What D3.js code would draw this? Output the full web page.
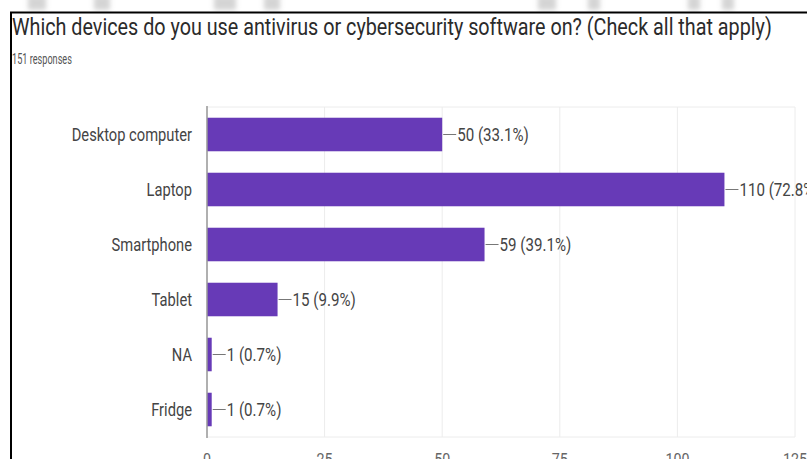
<!DOCTYPE html>
<html>
<head>
<meta charset="utf-8">
<script src="https://cdn.jsdelivr.net/npm/d3@7"></script>
<style>
  html, body { margin: 0; padding: 0; background: #fff; }
  svg { display: block; font-family: Roboto, "Noto Sans", sans-serif; }
</style>
</head>
<body>
<svg id="chart" width="807" height="459"></svg>
<script>
// Survey: devices with antivirus / cybersecurity software
const title = "Which devices do you use antivirus or cybersecurity software on? (Check all that apply)";
const subtitle = "151 responses";
const totalResponses = 151;
const categories = ["Desktop computer", "Laptop", "Smartphone", "Tablet", "NA", "Fridge"];
const counts = [50, 110, 59, 15, 1, 1];
const xTicks = [0, 25, 50, 75, 100, 125];

const svg = d3.select("#chart");
const W = 807, H = 459;
const squeeze = 0.84;          // narrow type
const barColor = "#673ab7";

const plot = { left: 207, right: 795, top: 107, bottom: 437 };

const x = d3.scaleLinear().domain([0, 125]).range([plot.left, plot.right]);
const y = d3.scaleBand().domain(categories).range([plot.top, plot.bottom])
  .paddingInner(0.39).paddingOuter(0.195);

// place text compressed horizontally around its anchor
function place(sel, px, py) {
  sel.attr("x", 0).attr("y", 0)
     .attr("transform", (d, i) => `translate(${px(d, i)},${py(d, i)}) scale(${squeeze},1)`);
}

// faint page header strip above the frame
const defs = svg.append("defs");
defs.append("filter").attr("id", "soft")
  .append("feGaussianBlur").attr("stdDeviation", 2.5);
const smudges = [[28, 18], [94, 16], [214, 22], [264, 16], [538, 18], [588, 12], [688, 12], [722, 12]];
svg.append("g").attr("filter", "url(#soft)").selectAll("rect").data(smudges).join("rect")
  .attr("x", d => d[0]).attr("width", d => d[1])
  .attr("y", -4).attr("height", 14)
  .attr("fill", "#d4d4d4");

// frame
svg.append("line").attr("x1", 10).attr("x2", W).attr("y1", 12.5).attr("y2", 12.5)
  .attr("stroke", "#000").attr("stroke-width", 2);
svg.append("line").attr("x1", 11).attr("x2", 11).attr("y1", 12).attr("y2", H)
  .attr("stroke", "#000").attr("stroke-width", 2);

// heading
const t = svg.append("text").text(title)
  .attr("font-size", 23).attr("fill", "#2b2b2b");
const tw = t.node().getComputedTextLength();
t.attr("transform", `translate(12,35) scale(${760 / tw},1)`);

const st = svg.append("text").text(subtitle)
  .attr("font-size", 14.5).attr("fill", "#555");
const sw = st.node().getComputedTextLength();
st.attr("transform", `translate(12,64) scale(${60 / sw},1)`);

// grid
const grid = svg.append("g");
grid.selectAll("line.v").data(xTicks).join("line")
  .attr("x1", d => x(d)).attr("x2", d => x(d))
  .attr("y1", plot.top).attr("y2", plot.bottom)
  .attr("stroke", "#ececec").attr("stroke-width", 1);
grid.selectAll("line.h").data([plot.top, plot.bottom]).join("line")
  .attr("x1", plot.left).attr("x2", x(125))
  .attr("y1", d => d).attr("y2", d => d)
  .attr("stroke", "#ececec").attr("stroke-width", 1);

// bars
svg.append("g").selectAll("rect").data(categories).join("rect")
  .attr("x", x(0))
  .attr("y", d => y(d))
  .attr("width", (d, i) => x(counts[i]) - x(0))
  .attr("height", y.bandwidth())
  .attr("fill", barColor);

// leader lines + value labels
const lab = svg.append("g");
lab.selectAll("line").data(categories).join("line")
  .attr("x1", (d, i) => x(counts[i]) + 1)
  .attr("x2", (d, i) => x(counts[i]) + 14)
  .attr("y1", d => y(d) + y.bandwidth() / 2)
  .attr("y2", d => y(d) + y.bandwidth() / 2)
  .attr("stroke", "#777").attr("stroke-width", 1);
lab.selectAll("text").data(categories).join("text")
  .text((d, i) => `${counts[i]} (${(counts[i] / totalResponses * 100).toFixed(1)}%)`)
  .attr("font-size", 18).attr("fill", "#444")
  .attr("dominant-baseline", "central")
  .call(place, (d, i) => x(counts[i]) + 15, d => y(d) + y.bandwidth() / 2 + 1);

// category axis
const yAxis = svg.append("g");
yAxis.append("line").attr("x1", plot.left).attr("x2", plot.left)
  .attr("y1", plot.top - 1).attr("y2", plot.bottom + 1)
  .attr("stroke", "#999").attr("stroke-width", 1.5);
yAxis.selectAll("text").data(categories).join("text")
  .text(d => d)
  .attr("font-size", 17.5).attr("fill", "#444")
  .attr("text-anchor", "end").attr("dominant-baseline", "central")
  .call(place, () => 192, d => y(d) + y.bandwidth() / 2 + 1);

// value axis labels
svg.append("g").selectAll("text").data(xTicks).join("text")
  .text(d => d)
  .attr("font-size", 17).attr("fill", "#666")
  .attr("text-anchor", "middle")
  .call(place, d => x(d), () => 465);
</script>
</body>
</html>
